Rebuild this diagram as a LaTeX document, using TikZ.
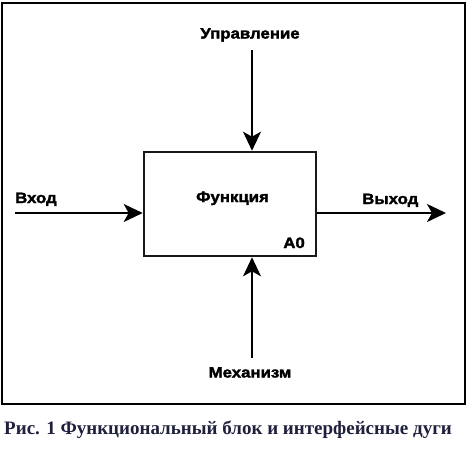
\documentclass[tikz,border=0pt]{standalone}
\usepackage{fontspec}
\usetikzlibrary{arrows.meta}
\newfontfamily\diafont{Liberation Sans}[FakeStretch=1.12, FakeBold=2]
\newfontfamily\capfont{Liberation Serif}
\definecolor{capcol}{RGB}{30,32,60}
\tikzset{
  lbl/.style={inner sep=0pt, font=\diafont\bfseries\fontsize{15}{17}\selectfont},
  arc/.style={line width=2pt, -{Stealth[length=19pt,width=18pt,inset=5pt]}},
  fbox/.style={draw=black!90, line width=2.6pt, fill=white},
}
\begin{document}
\begin{tikzpicture}[x=1pt,y=-1pt]
\useasboundingbox (0,0) rectangle (473,448);
\fill[white] (0,0) rectangle (473,448);
\draw[line width=1.8pt] (2,3) rectangle (465,404);
\node[fbox, minimum width=172pt, minimum height=104pt, inner sep=0pt] (box) at (230,204) {};
\coordinate (inS) at (15,213);
\coordinate (outE) at (446,213);
\coordinate (ctlS) at (252,50);
\coordinate (mechS) at (252,358);
\draw[arc] (inS) -- (inS -| box.west);
\draw[arc] (box.east |- outE) -- (outE);
\draw[arc] (ctlS) -- (ctlS |- box.north);
\draw[arc] (mechS) -- (mechS |- box.south);
\node[lbl, anchor=base] (ctl) at (250,38.5) {Управление};
\node[lbl, anchor=base west] (in) at (15,203) {Вход};
\node[lbl, anchor=base] (fn) at (232.5,202) {Функция};
\node[lbl, anchor=base west] (out) at (362,204) {Выход};
\node[lbl, anchor=base east] (a0) at (305,248) {A0};
\node[lbl, anchor=base] (mech) at (250,377.5) {Механизм};
\node[inner sep=0pt, anchor=base west, text=capcol, font=\capfont\bfseries\fontsize{19}{22}\selectfont] (cap) at (4,434) {Рис. 1 Функциональный блок и интерфейсные дуги};
\end{tikzpicture}
\end{document}
